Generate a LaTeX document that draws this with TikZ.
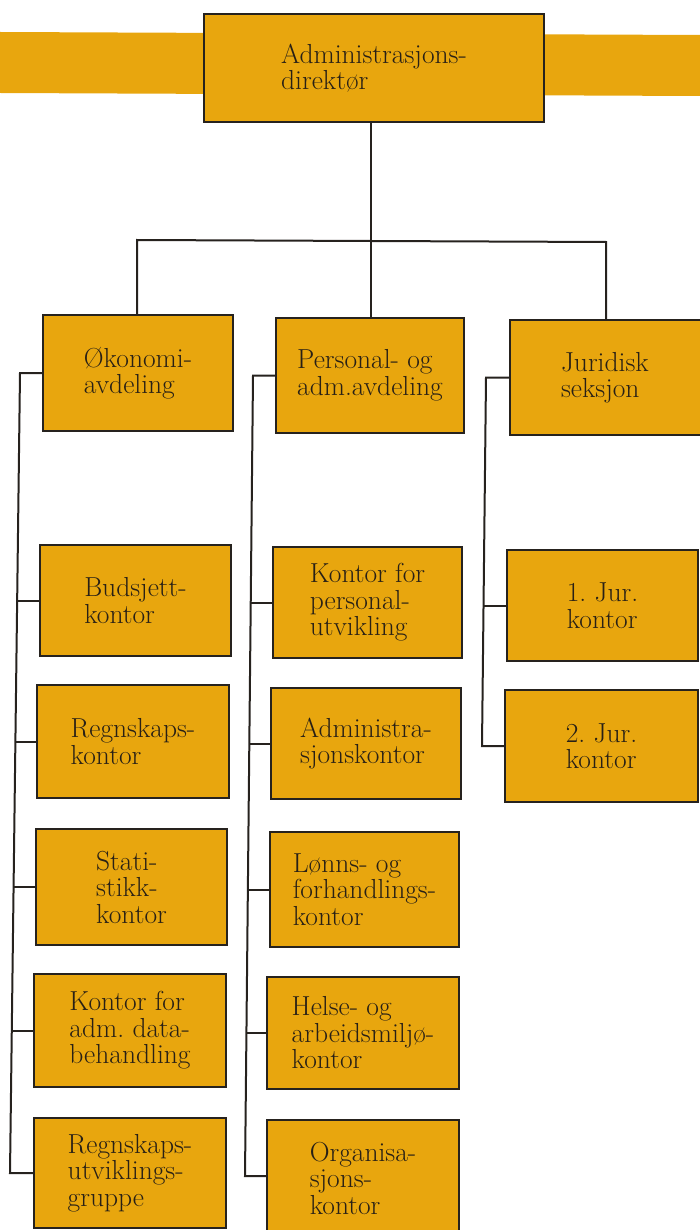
\documentclass[tikz,border=0pt]{standalone}
\usepackage{fontspec}
\definecolor{gold}{RGB}{232,166,14}
\definecolor{linec}{RGB}{38,34,30}
\definecolor{textc}{RGB}{40,32,22}
\frenchspacing
\begin{document}
\begin{tikzpicture}[x=1pt,y=-1pt,
  unitbox/.style={draw=linec, line width=2.4pt, fill=gold, inner sep=0pt,
    align=left, text=textc, font=\fontsize{27.5}{26.5}\selectfont},
  link/.style={draw=linec, line width=2pt}]
\useasboundingbox (0,0) rectangle (700,1230);
\clip (0,0) rectangle (700,1230);

% band behind the director
\fill[gold] (0,32) -- (700,35) -- (700,96) -- (0,93) -- cycle;

% director
\node[unitbox, minimum width=340pt, minimum height=108pt] (top) at (374,68)
  {Administrasjons-\\direktør};

% departments
\node[unitbox, minimum width=190pt, minimum height=116pt] (oko) at (138,373)
  {Økonomi-\\avdeling};
\node[unitbox, minimum width=188pt, minimum height=115pt] (per) at (370,375.5)
  {Personal- og\\adm.avdeling};
\node[unitbox, minimum width=194pt, minimum height=115pt, text width=92pt] (jur) at (607,377.5)
  {Juridisk\\seksjon};

% economy offices
\node[unitbox, minimum width=191pt, minimum height=111pt] (bud) at (135.5,600.5)
  {Budsjett-\\kontor};
\node[unitbox, minimum width=192pt, minimum height=113pt] (reg) at (133,741.5)
  {Regnskaps-\\kontor};
\node[unitbox, minimum width=191pt, minimum height=116pt] (sta) at (131.5,887)
  {Stati-\\stikk-\\kontor};
\node[unitbox, minimum width=192pt, minimum height=113pt] (dat) at (130,1030.5)
  {Kontor for\\adm. data-\\behandling};
\node[unitbox, minimum width=192pt, minimum height=110pt] (rug) at (130,1173)
  {Regnskaps-\\utviklings-\\gruppe};

% personnel offices
\node[unitbox, minimum width=189pt, minimum height=111pt] (kpu) at (367.5,602.5)
  {Kontor for\\personal-\\utvikling};
\node[unitbox, minimum width=190pt, minimum height=111pt] (adk) at (366,743.5)
  {Administra-\\sjonskontor};
\node[unitbox, minimum width=189pt, minimum height=115pt] (lon) at (364.5,889.5)
  {Lønns- og\\forhandlings-\\kontor};
\node[unitbox, minimum width=192pt, minimum height=112pt] (hel) at (363,1033)
  {Helse- og\\arbeidsmiljø-\\kontor};
\node[unitbox, minimum width=192pt, minimum height=116pt] (org) at (363,1178)
  {Organisa-\\sjons-\\kontor};

% legal offices
\node[unitbox, minimum width=191pt, minimum height=111pt] (jo) at (602.5,605.5)
  {1. Jur.\\kontor};
\node[unitbox, minimum width=193pt, minimum height=112pt] (jt) at (601.5,746)
  {2. Jur.\\kontor};

% top-level connectors
\coordinate (hub) at (371,241);
\coordinate (tl) at (137,240);
\coordinate (tr) at (606,242);
\draw[link] (top.south -| hub) -- (hub);
\draw[link] (oko.north -| tl) -- (tl) -- (tr) -- (jur.north -| tr);
\draw[link] (hub) -- (per.north -| hub);

% economy bus
\coordinate (ea) at (20,373);
\coordinate (eb) at (17.1,600.5);
\coordinate (ec) at (15.4,741.5);
\coordinate (ed) at (13.55,887);
\coordinate (ee) at (11.75,1030.5);
\coordinate (ef) at (10,1173);
\draw[link] (oko.west) -- (ea) -- (ef) -- (rug.west);
\draw[link] (eb) -- (bud.west);
\draw[link] (ec) -- (reg.west);
\draw[link] (ed) -- (sta.west);
\draw[link] (ee) -- (dat.west);

% personnel bus
\coordinate (pa) at (253,375.5);
\coordinate (pb) at (250.7,602.5);
\coordinate (pc) at (249.3,743.5);
\coordinate (pd) at (247.9,889.5);
\coordinate (pe) at (246.4,1033);
\coordinate (pf) at (245,1176);
\draw[link] (per.west) -- (pa) -- (pf) -- (org.west |- pf);
\draw[link] (pb) -- (kpu.west);
\draw[link] (pc) -- (adk.west);
\draw[link] (pd) -- (lon.west);
\draw[link] (pe) -- (hel.west);

% legal bus
\coordinate (ja) at (486,377.5);
\coordinate (jb) at (483.5,605.5);
\coordinate (jc) at (482,746);
\draw[link] (jur.west) -- (ja) -- (jc) -- (jt.west);
\draw[link] (jb) -- (jo.west);
\end{tikzpicture}
\end{document}
